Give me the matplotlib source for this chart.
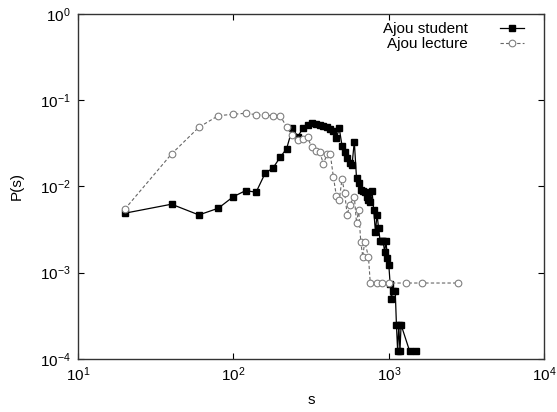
import matplotlib
matplotlib.use("Agg")
import matplotlib.pyplot as plt
from matplotlib.ticker import LogLocator, NullLocator

plt.rcParams['font.family'] = ['Liberation Sans', 'DejaVu Sans']
plt.rcParams['mathtext.default'] = 'regular'

# Ajou student data
student_s = [20, 40, 60, 80, 100, 120, 140, 160, 180, 200, 220, 240, 260, 280,
             300, 320, 340, 360, 380, 400, 420, 440, 460, 480, 500, 520, 540,
             560, 580, 600, 620, 640, 660, 680, 700, 720, 740, 760, 780, 800,
             820, 840, 860, 880, 900, 920, 940, 960, 980, 1000, 1020, 1040,
             1060, 1100, 1120, 1140, 1160, 1180, 1200, 1360, 1500]
student_p = [0.00489, 0.00622, 0.00467, 0.00559, 0.00762, 0.00894, 0.00857,
             0.0142, 0.0164, 0.0218, 0.0274, 0.0473, 0.0378, 0.0473, 0.0516,
             0.0541, 0.053, 0.0516, 0.0503, 0.049, 0.0464, 0.044, 0.0362,
             0.0473, 0.0297, 0.0251, 0.0212, 0.0186, 0.0177, 0.0332, 0.0124,
             0.0109, 0.0092, 0.0089, 0.0086, 0.0076, 0.0070, 0.0066, 0.0089,
             0.0053, 0.0030, 0.0047, 0.0033, 0.0023, 0.0023, 0.0023, 0.00175,
             0.0023, 0.00149, 0.00124, 0.000744, 0.000496, 0.00062, 0.00062,
             0.000248, 0.000124, 0.000248, 0.000124, 0.000248, 0.000124,
             0.000124]

# Ajou lecture data
lecture_s = [20, 40, 60, 80, 100, 120, 140, 160, 180, 200, 220, 240, 260, 280,
             300, 320, 340, 360, 380, 400, 420, 440, 460, 480, 500, 520, 540,
             560, 600, 620, 640, 660, 680, 700, 740, 760, 840, 900, 1000, 1300,
             1640, 2780]
lecture_p = [0.00544, 0.0238, 0.0486, 0.0662, 0.0687, 0.0706, 0.068, 0.0669,
             0.0662, 0.0662, 0.049, 0.0395, 0.0346, 0.0356, 0.037, 0.0283,
             0.0258, 0.0248, 0.0182, 0.0238, 0.0238, 0.0129, 0.00776, 0.00697,
             0.0122, 0.00841, 0.00467, 0.0061, 0.00762, 0.00377, 0.00534,
             0.00229, 0.00153, 0.00229, 0.00153, 0.000758, 0.000758, 0.000758,
             0.000758, 0.000758, 0.000758, 0.000758]

fig = plt.figure(figsize=(5.57, 4.12), dpi=100)
ax = fig.add_axes([0.140, 0.129, 0.837, 0.837])

ax.plot(student_s, student_p, color='black', lw=0.9, marker='s', ms=4.2,
        mfc='black', mec='black', label='Ajou student')
ax.plot(lecture_s, lecture_p, color='#666666', lw=0.8, ls=(0, (3, 2)),
        marker='o', ms=4.8, mfc='white', mec='#808080', mew=0.8,
        label='Ajou lecture')

ax.set_xscale('log')
ax.set_yscale('log')
ax.set_xlim(10, 1e4)
ax.set_ylim(1e-4, 1)
ax.xaxis.set_major_locator(LogLocator(base=10, numticks=10))
ax.yaxis.set_major_locator(LogLocator(base=10, numticks=10))
ax.xaxis.set_minor_locator(NullLocator())
ax.yaxis.set_minor_locator(NullLocator())
ax.tick_params(which='both', direction='in', top=True, right=True,
               length=4, width=0.8, labelsize=11, pad=5)
for sp in ax.spines.values():
    sp.set_linewidth(1.0)
    sp.set_color('#333333')

ax.set_xlabel('s', fontsize=11, labelpad=6)
ax.set_ylabel('P(s)', fontsize=11, labelpad=12)

ax.legend(loc='upper right', bbox_to_anchor=(0.975, 1.0), frameon=False,
          markerfirst=False, fontsize=11, handlelength=1.6,
          handletextpad=2.1, labelspacing=0.05, borderaxespad=0.15,
          borderpad=0.4)

fig.savefig('out.png', dpi=100)
